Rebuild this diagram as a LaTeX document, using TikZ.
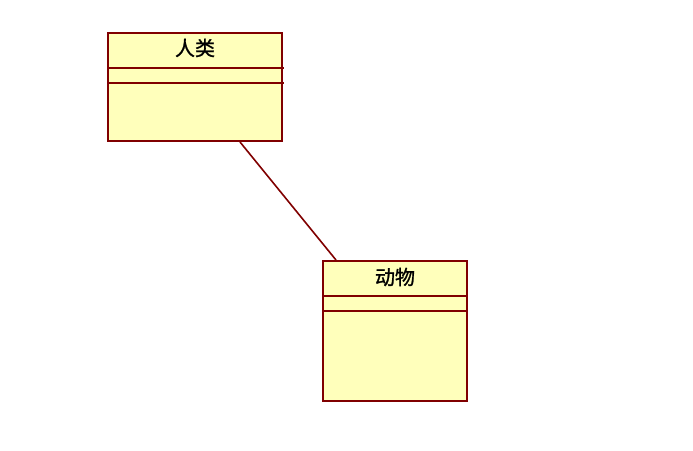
\documentclass[tikz,border=0pt]{standalone}
\usepackage{fontspec}
\newfontfamily\cjk[FakeBold=1.2]{Noto Sans CJK SC}
\definecolor{umlline}{HTML}{800000}
\definecolor{umlfill}{HTML}{FFFFBB}
\tikzset{
  classbox/.style={draw=umlline, fill=umlfill, line width=2pt, rectangle, inner sep=0pt, anchor=north west},
  classname/.style={font=\cjk\fontsize{20}{22}\selectfont, text=black, inner sep=0pt},
  sepline/.style={draw=umlline, line width=2pt},
  assoc/.style={draw=umlline, line width=1.6pt}
}
\begin{document}
\begin{tikzpicture}[x=1pt,y=-1pt]
\useasboundingbox (0,0) rectangle (693,450);
% class 人类
\node[classbox, minimum width=174pt, minimum height=108pt] (a) at (107,32) {};
\node[classname] (an) at (195,48) {人类};
\draw[sepline] ([yshift=-36pt]a.north west) -- ++(177,0);
\draw[sepline] ([yshift=-51pt]a.north west) -- ++(177,0);
% class 动物
\node[classbox, minimum width=144pt, minimum height=140pt] (b) at (322,260) {};
\node[classname] (bn) at (395,277) {动物};
\draw[sepline] ([yshift=-36pt]b.north west) -- ++(146,0);
\draw[sepline] ([yshift=-51pt]b.north west) -- ++(146,0);
% association
\draw[assoc] ([xshift=133pt]a.south west) -- ([xshift=14pt]b.north west);
\end{tikzpicture}
\end{document}
